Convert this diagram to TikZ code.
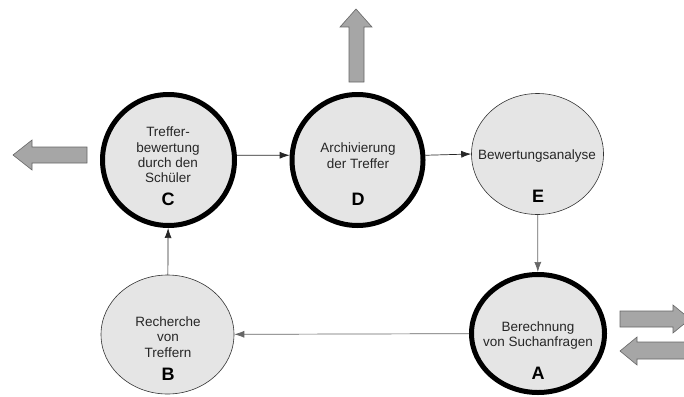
\documentclass[tikz,border=0pt]{standalone}
\usepackage{fontspec}
\setmainfont{Liberation Sans}
\usetikzlibrary{shapes.geometric,arrows.meta}
\begin{document}
\begin{tikzpicture}[x = 1pt, y = -1pt,
  phase/.style = {ellipse, fill = bubble, draw = black, line width = 5pt, inner sep = 0pt},
  thinphase/.style = {ellipse, fill = bubble, draw = black!80, line width = 0.6pt, inner sep = 0pt},
  txt/.style = {align = center, font = \fontsize{13.5}{15.4}\selectfont, text = black!85, inner sep = 0pt},
  letter/.style = {font = \fontsize{18}{18}\selectfont\bfseries, inner sep = 0pt},
  conn/.style = {draw = black!85, line width = 0.7pt, -{Latex[length = 10pt, width = 7pt]}},
  bigarrow/.style = {fill = black!35, draw = black!60, line width = 0.6pt}]
\definecolor{bubble}{gray}{0.9}
\useasboundingbox (0,0) rectangle (684,396);
\clip (0,0) rectangle (684,396);
\node[phase, minimum width = 132pt, minimum height = 131pt] (nodeC) at (168.5,160) {};
\node[phase, minimum width = 131pt, minimum height = 131pt] (nodeD) at (357.5,160) {};
\node[thinphase, minimum width = 132pt, minimum height = 121pt] (nodeE) at (537.5,154) {};
\node[phase, minimum width = 133pt, minimum height = 118pt] (nodeA) at (538,333.5) {};
\node[thinphase, minimum width = 133pt, minimum height = 119pt] (nodeB) at (167.5,334.5) {};
\node[txt] (txtC) at (168,155) {Treffer-\\bewertung\\durch den\\Schüler};
\node[letter] (lblC) at (168,199) {C};
\node[txt] (txtD) at (358,155.5) {Archivierung\\der Treffer};
\node[letter] (lblD) at (358,199) {D};
\node[txt] (txtE) at (537,156) {Bewertungsanalyse};
\node[letter] (lblE) at (538,196) {E};
\node[txt] (txtA) at (538,335.5) {Berechnung\\von Suchanfragen};
\node[letter] (lblA) at (538,373) {A};
\node[txt] (txtB) at (168,337) {Recherche\\von\\Treffern};
\node[letter] (lblB) at (168,374) {B};
\draw[conn] (nodeC.4) -- (nodeD.176);
\draw[conn] (nodeD.4) -- (nodeE.west);
\draw[conn, draw = black!60] (nodeE) -- (nodeA);
\draw[conn, draw = black!60] (nodeA) -- (nodeB);
\draw[conn] (nodeB) -- (nodeC);
\draw[bigarrow] (349,82) -- (349,27) -- (340,27) -- (356,9) -- (372,27) -- (364,27) -- (364,82) -- cycle;
\draw[bigarrow] (87,147) -- (32,147) -- (32,140) -- (13,155) -- (32,170) -- (32,163) -- (87,163) -- cycle;
\draw[bigarrow] (620,311) -- (673,311) -- (673,305) -- (690,319) -- (673,333) -- (673,327) -- (620,327) -- cycle;
\draw[bigarrow] (690,342) -- (637,342) -- (637,337) -- (620,351) -- (637,365) -- (637,359) -- (690,359) -- cycle;
\end{tikzpicture}
\end{document}
